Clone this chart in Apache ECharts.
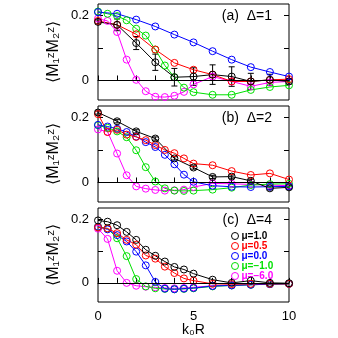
<!DOCTYPE html>
<html>
<head>
<meta charset="utf-8">
<script src="https://cdn.jsdelivr.net/npm/echarts@6/dist/echarts.min.js"></script>
<style>
html, body { margin: 0; padding: 0; background: #fff; }
#chart { width: 338px; height: 338px; }
</style>
</head>
<body>
<div id="chart"></div>
<script>
// x grids: half steps up to 5, then integer steps
var xHalf = [0, 0.5, 1, 1.5, 2, 2.5, 3, 3.5, 4, 4.5, 5, 6, 7, 8, 9, 10];
var xInt = [0, 1, 2, 3, 4, 5, 6, 7, 8, 9, 10];

var muNames = ['μ=1.0', 'μ=0.5', 'μ=0.0', 'μ=−1.0', 'μ=−6.0'];
var muColors = ['#000000', '#ff0000', '#0000ff', '#00e000', '#ff00ff'];
var panelLabels = ['(a)  Δ=1', '(b)  Δ=2', '(c)  Δ=4'];

// panel (a) Delta=1
var aBlack = [0.180, 0.171, 0.115, 0.056, 0.010, 0.012, 0.018, 0.012, -0.003, 0.002, -0.003];
var aBlackErr = [0.006, 0.018, 0.020, 0.025, 0.027, 0.027, 0.030, 0.030, 0.025, 0.017, 0.008];
var aRed = [0.183, 0.171, 0.142, 0.095, 0.054, 0.033, 0.018, -0.003, -0.003, 0.002, 0.004];
var aBlue = [0.210, 0.205, 0.187, 0.166, 0.141, 0.117, 0.090, 0.064, 0.041, 0.026, 0.012];
var aGreen = [0.212, 0.205, 0.198, 0.185, 0.159, 0.138, 0.095, 0.046, 0.010, -0.022, -0.036, -0.044, -0.044, -0.029, -0.020, -0.015];
var aMagenta = [0.190, 0.183, 0.149, 0.064, 0.002, -0.033, -0.050, -0.051, -0.047, -0.035, -0.012, 0.012, -0.003, -0.018, -0.006, -0.003];

// panel (b) Delta=2
var bBlack = [0.215, 0.188, 0.157, 0.135, 0.074, 0.046, 0.017, 0.018, 0.005, -0.018, -0.015];
var bBlackErr = [0.005, 0.005, 0.005, 0.005, 0.005, 0.005, 0.005, 0.005, 0.005, 0.005, 0.005];
var bRed = [0.210, 0.155, 0.162, 0.147, 0.140, 0.130, 0.115, 0.100, 0.090, 0.074, 0.058, 0.053, 0.035, 0.023, 0.028, 0.009];
var bBlue = [0.177, 0.172, 0.165, 0.155, 0.141, 0.124, 0.109, 0.085, 0.056, 0.024, 0.002, -0.010, -0.013, -0.014, -0.013, -0.012];
var bGreen = [0.176, 0.168, 0.157, 0.139, 0.099, 0.047, 0.003, -0.018, -0.025, -0.026, -0.025, -0.022, -0.016, -0.008, -0.005, -0.004];
var bMagenta = [0.163, 0.156, 0.089, 0.022, -0.012, -0.019, -0.023, -0.025, -0.024, -0.022, -0.014, -0.003, -0.004, -0.006, -0.008, -0.010];

// panel (c) Delta=4
var cBlack = [0.196, 0.192, 0.181, 0.160, 0.135, 0.104, 0.085, 0.067, 0.050, 0.042, 0.029, 0.010, 0.000, 0.007, 0.000, -0.001];
var cRed = [0.174, 0.171, 0.156, 0.135, 0.120, 0.086, 0.076, 0.051, 0.031, 0.014, 0.007, -0.003, -0.004, -0.003, -0.003, -0.003];
var cBlue = [0.176, 0.168, 0.150, 0.130, 0.098, 0.055, 0.003, -0.018, -0.020, -0.018, -0.016, -0.010, -0.008, -0.006, -0.004, -0.003];
var cGreen = [0.176, 0.171, 0.140, 0.084, 0.012, -0.011, -0.017, -0.019, -0.020, -0.019, -0.017, -0.011, -0.008, -0.006, -0.004, -0.003];
var cMagenta = [0.170, 0.138, 0.038, 0.000, -0.009, -0.012, -0.014, -0.016, -0.017, -0.016, -0.014, -0.009, -0.007, -0.005, -0.004, -0.003];

var panels = [
	{ xs: [xInt, xInt, xInt, xHalf, xHalf], ys: [aBlack, aRed, aBlue, aGreen, aMagenta], err: aBlackErr },
	{ xs: [xInt, xHalf, xHalf, xHalf, xHalf], ys: [bBlack, bRed, bBlue, bGreen, bMagenta], err: bBlackErr },
	{ xs: [xHalf, xHalf, xHalf, xHalf, xHalf], ys: [cBlack, cRed, cBlue, cGreen, cMagenta], err: null }
];

var FONT = 'Liberation Sans, Arial, sans-serif';
var gridTops = [4, 106, 208];
var gridH = 96;

function zip(xs, ys) {
	return xs.map(function(x, i) { return [x, ys[i]]; });
}

var grids = [], xAxes = [], yAxes = [], series = [], graphics = [];

panels.forEach(function(p, g) {
	var isLast = g === panels.length - 1;
	grids.push({ left: 98, right: 49, top: gridTops[g], height: gridH, show: true, borderColor: '#000', borderWidth: 1, backgroundColor: 'transparent' });
	xAxes.push({
		type: 'value', gridIndex: g, min: 0, max: 10, interval: 1,
		axisLine: { show: true, lineStyle: { color: '#000', width: 1 } },
		axisTick: { show: true, inside: true, length: 5, lineStyle: { color: '#000' } },
		splitLine: { show: false },
		axisLabel: { show: isLast, customValues: [0, 5, 10], margin: 8, color: '#000', fontSize: 13, fontFamily: FONT },
		name: isLast ? 'k₀R' : '', nameLocation: 'middle', nameGap: 21, nameMoveOverlap: false,
		nameTextStyle: { color: '#000', fontSize: 14, fontFamily: FONT }
	});
	// left axis with labels
	yAxes.push({
		type: 'value', gridIndex: g, min: -0.06, max: 0.235, position: 'left',
		axisLine: { show: false },
		axisTick: { show: true, inside: true, length: 5, customValues: [0, 0.1, 0.2], lineStyle: { color: '#000' } },
		splitLine: { show: false },
		axisLabel: { customValues: [0, 0.2], margin: 9, color: '#000', fontSize: 13, fontFamily: FONT,
			formatter: function(v) { return v === 0 ? '0' : v.toFixed(1); } },
		name: '⟨M₁ᶻM₂ᶻ⟩', nameLocation: 'middle', nameGap: 36, nameRotate: 90, nameMoveOverlap: false,
		nameTextStyle: { color: '#000', fontSize: 16, fontFamily: FONT }
	});
	// right axis only for inward ticks
	yAxes.push({
		type: 'value', gridIndex: g, min: -0.06, max: 0.235, position: 'right',
		axisLine: { show: false },
		axisTick: { show: true, inside: true, length: 5, customValues: [0, 0.1, 0.2], lineStyle: { color: '#000' } },
		splitLine: { show: false },
		axisLabel: { show: false }
	});

	// error bars for the black curve
	if (p.err) {
		series.push({
			type: 'custom', xAxisIndex: g, yAxisIndex: 2 * g, silent: true, z: 3,
			data: p.xs[0].map(function(x, i) { return [x, p.ys[0][i], p.err[i]]; }),
			renderItem: function(params, api) {
				var x = api.value(0), y = api.value(1), e = api.value(2);
				var t = api.coord([x, y + e]), b = api.coord([x, y - e]);
				var st = { stroke: '#000', lineWidth: 1 };
				return { type: 'group', children: [
					{ type: 'line', shape: { x1: t[0], y1: t[1], x2: b[0], y2: b[1] }, style: st },
					{ type: 'line', shape: { x1: t[0] - 3, y1: t[1], x2: t[0] + 3, y2: t[1] }, style: st },
					{ type: 'line', shape: { x1: b[0] - 3, y1: b[1], x2: b[0] + 3, y2: b[1] }, style: st }
				] };
			}
		});
	}

	// draw magenta first, black last
	for (var k = muNames.length - 1; k >= 0; k--) {
		var s = {
			type: 'line', name: muNames[k], xAxisIndex: g, yAxisIndex: 2 * g,
			data: zip(p.xs[k], p.ys[k]),
			symbol: 'circle', symbolSize: 7, showAllSymbol: true,
			lineStyle: { color: muColors[k], width: 1 },
			itemStyle: { color: 'rgba(255,255,255,0)', borderColor: muColors[k], borderWidth: 1 },
			animation: false, z: 4
		};
		if (k === muNames.length - 1) {
			s.markLine = {
				silent: true, symbol: 'none', label: { show: false },
				lineStyle: { color: '#000', width: 1, type: 'solid' },
				data: [{ yAxis: 0 }]
			};
		}
		series.push(s);
	}

	graphics.push({
		type: 'text', right: 66, top: gridTops[g] + 5,
		style: { text: panelLabels[g], fill: '#000', font: '14px ' + FONT }
	});
});

var myChart = echarts.init(document.getElementById('chart'));

var option = {
	animation: false,
	backgroundColor: '#fff',
	grid: grids,
	xAxis: xAxes,
	yAxis: yAxes,
	legend: {
		orient: 'vertical', left: 231, top: 231, height: 60, padding: 0,
		itemWidth: 7, itemHeight: 7, itemGap: 0,
		icon: 'circle',
		itemStyle: { borderWidth: 1 },
		textStyle: { fontSize: 10, fontWeight: 'bold', lineHeight: 8, fontFamily: FONT, padding: [0, 0, 0, -2] },
		data: muNames.map(function(n, i) { return { name: n, textStyle: { color: muColors[i] } }; })
	},
	graphic: graphics,
	series: series
};

myChart.setOption(option);
</script>
</body>
</html>
